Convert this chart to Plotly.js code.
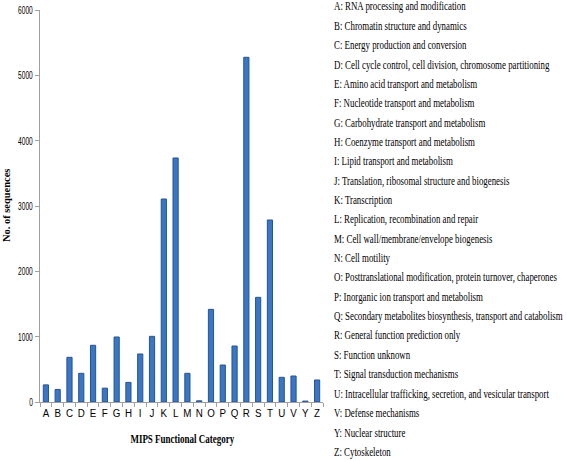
<!DOCTYPE html>
<html>
<head>
<meta charset="utf-8">
<script src="https://cdn.plot.ly/plotly-3.0.1.min.js"></script>
<style>html,body{margin:0;padding:0;background:#fff;}#chart{width:567px;height:461px;}</style>
</head>
<body>
<div id="chart"></div>
<script>
var categories = ["A","B","C","D","E","F","G","H","I","J","K","L","M","N","O","P","Q","R","S","T","U","V","Y","Z"];
var counts = [262, 192, 684, 439, 868, 212, 995, 300, 735, 1005, 3107, 3735, 439, 18, 1418, 566, 857, 5276, 1602, 2786, 378, 398, 14, 337];
var descriptions = [
  "A: RNA processing and modification",
  "B: Chromatin structure and dynamics",
  "C: Energy production and conversion",
  "D: Cell cycle control, cell division, chromosome partitioning",
  "E: Amino acid transport and metabolism",
  "F: Nucleotide transport and metabolism",
  "G: Carbohydrate transport and metabolism",
  "H: Coenzyme transport and metabolism",
  "I: Lipid transport and metabolism",
  "J: Translation, ribosomal structure and biogenesis",
  "K: Transcription",
  "L: Replication, recombination and repair",
  "M: Cell wall/membrane/envelope biogenesis",
  "N: Cell motility",
  "O: Posttranslational modification, protein turnover, chaperones",
  "P: Inorganic ion transport and metabolism",
  "Q: Secondary metabolites biosynthesis, transport and catabolism",
  "R: General function prediction only",
  "S: Function unknown",
  "T: Signal transduction mechanisms",
  "U: Intracellular trafficking, secretion, and vesicular transport",
  "V: Defense mechanisms",
  "Y: Nuclear structure",
  "Z: Cytoskeleton"
];
var yTicks = [0, 1000, 2000, 3000, 4000, 5000, 6000];
var xTitle = "MIPS Functional Category";
var yTitle = "No. of sequences";

var W = 567, H = 461;
var mL = 40, mR = 244, mT = 10, mB = 59;
var plotW = W - mL - mR, plotH = H - mT - mB;
var serif = 'Liberation Serif, Times New Roman, serif';
var sans = 'Liberation Sans, Arial, sans-serif';

function px2x(p){ return (p - mL) / plotW; }
function px2y(p){ return (H - mB - p) / plotH; }

var annotations = descriptions.map(function(d, i){
  return {
    text: d, xref: 'paper', yref: 'paper', align: 'left',
    x: px2x(332), y: px2y(7 + i * 19.35),
    xanchor: 'left', yanchor: 'middle', showarrow: false,
    font: {family: serif, size: 11.5, color: '#000'}
  };
});
annotations.push({
  text: '<b>' + xTitle + '</b>', xref: 'paper', yref: 'paper',
  x: px2x(182), y: px2y(439), xanchor: 'center', yanchor: 'middle', showarrow: false,
  font: {family: serif, size: 12.5, color: '#000'}
});
annotations.push({
  text: '<b>' + yTitle + '</b>', xref: 'paper', yref: 'paper', textangle: -90,
  x: px2x(6), y: px2y(205), xanchor: 'center', yanchor: 'middle', showarrow: false,
  font: {family: serif, size: 11, color: '#000'}
});

var trace = {
  type: 'bar', x: categories, y: counts,
  marker: {color: '#3a76c6', line: {color: '#27548f', width: 1}},
  hoverinfo: 'x+y'
};

var layout = {
  width: W, height: H,
  margin: {l: mL, r: mR, t: mT, b: mB, pad: 0},
  paper_bgcolor: '#fff', plot_bgcolor: '#fff',
  bargap: 0.56,
  showlegend: false,
  xaxis: {
    type: 'category', tickangle: 0, dtick: 1, automargin: false,
    showline: true, linecolor: '#a0a0a0', linewidth: 1,
    ticks: 'outside', tickson: 'boundaries', ticklen: 4, tickcolor: '#a0a0a0',
    showgrid: false, zeroline: false,
    tickfont: {family: sans, size: 11.5, color: '#000'}
  },
  yaxis: {
    range: [0, 6000], tickvals: yTicks, automargin: false,
    showline: true, linecolor: '#a0a0a0', linewidth: 1,
    ticks: 'outside', ticklen: 4, tickcolor: '#a0a0a0',
    showgrid: false, zeroline: false,
    tickfont: {family: sans, size: 11, color: '#000'}
  },
  annotations: annotations
};

// Condense text horizontally (the reference typography is narrow) with a transform,
// keeping the text's anchor point fixed.
function squeeze(el, scale){
  var bb = el.getBBox();
  if (!bb.width) return;
  var anchor = el.getAttribute('text-anchor') || window.getComputedStyle(el).textAnchor || 'start';
  var ax = anchor === 'end' ? bb.x + bb.width : (anchor === 'middle' ? bb.x + bb.width / 2 : bb.x);
  var prev = el.getAttribute('transform') || '';
  el.setAttribute('transform', (prev + ' translate(' + ax + ',0) scale(' + scale + ',1) translate(' + (-ax) + ',0)').trim());
}

Plotly.newPlot('chart', [trace], layout, {displayModeBar: false, staticPlot: true}).then(function(gd){
  var anns = gd.querySelectorAll('.annotation-text');
  anns.forEach(function(t, i){
    if (i < descriptions.length) squeeze(t, 0.77);
    else if (i === descriptions.length) squeeze(t, 0.72);
    else squeeze(t, 0.95);
  });
  gd.querySelectorAll('.ytick text').forEach(function(t){ squeeze(t, 0.6); });
  gd.querySelectorAll('.xtick text').forEach(function(t){ squeeze(t, 0.85); });
});
</script>
</body>
</html>
